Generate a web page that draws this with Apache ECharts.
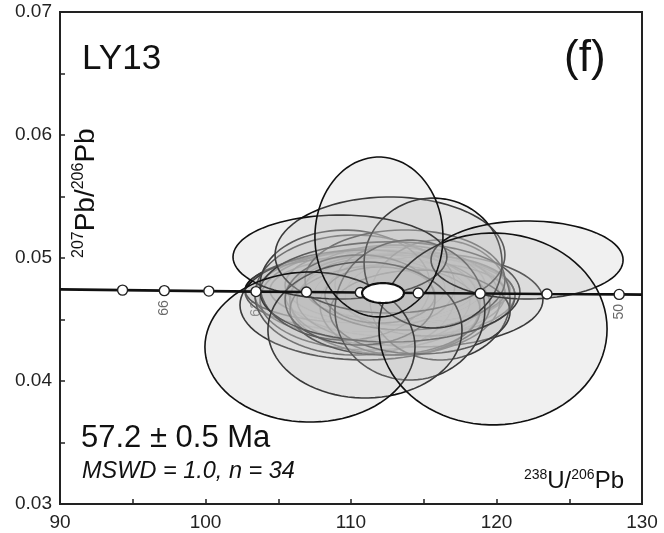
<!DOCTYPE html>
<html>
<head>
<meta charset="utf-8">
<script src="https://cdn.jsdelivr.net/npm/echarts@6.0.0/dist/echarts.min.js"></script>
<style>
    html, body { margin: 0; padding: 0; background: #fff; }
    #chart { width: 664px; height: 533px; }
</style>
</head>
<body>
<div id="chart"></div>
<script>
// 误差椭圆: 238U/206Pb 中心, 半宽, 207Pb/206Pb 中心, 半高
var ellX  = [111.65, 111.99, 112.68, 111.31, 113.37, 112.34, 113.02, 110.62, 114.05, 111.99,
             114.74, 110.27, 113.37, 111.65, 115.43, 110.96, 113.02, 112.34, 109.59, 116.12,
             113.71, 111.99, 114.74, 110.62, 112.68,
             112.68, 114.05, 110.96, 115.64, 109.24, 122.10, 107.18, 119.76, 111.92];
var ellSX = [8.93, 8.59, 8.25, 7.56, 7.90, 6.87, 7.22, 7.90, 6.53, 6.19,
             8.45, 6.87, 5.50, 4.81, 5.84, 8.59, 4.12, 6.53, 5.84, 4.81,
             6.87, 3.78, 6.19, 5.15, 8.93,
             7.90, 5.15, 6.67, 4.74, 7.35, 6.60, 7.22, 7.84, 4.40];
var ellY  = [0.04724, 0.04699, 0.04740, 0.04659, 0.04699, 0.04780, 0.04659, 0.04740, 0.04724, 0.04659,
             0.04659, 0.04699, 0.04618, 0.04756, 0.04691, 0.04618, 0.04780, 0.04577, 0.04780, 0.04659,
             0.04821, 0.04699, 0.04561, 0.04659, 0.04724,
             0.05024, 0.04577, 0.04415, 0.04959, 0.05008, 0.04984, 0.04276, 0.04423, 0.05171];
var ellSY = [0.00325, 0.00366, 0.00285, 0.00407, 0.00341, 0.00309, 0.00447, 0.00268, 0.00244, 0.00366,
             0.00382, 0.00488, 0.00407, 0.00244, 0.00325, 0.00447, 0.00325, 0.00366, 0.00447, 0.00488,
             0.00407, 0.00228, 0.00341, 0.00366, 0.00407,
             0.00472, 0.00569, 0.00553, 0.00528, 0.00341, 0.00317, 0.00610, 0.00780, 0.00650];

// 谐和年龄椭圆 (白色)
var meanX = [112.20], meanSX = [1.44], meanY = [0.04715], meanSY = [0.00081];

// 谐和线
var concX = [90, 94.30, 97.17, 100.23, 103.47, 106.94, 110.64, 114.62, 118.88, 123.47, 128.43, 130];
var concY = [0.04745, 0.04739, 0.04735, 0.04731, 0.04727, 0.04723, 0.04719, 0.04715, 0.04711, 0.04707, 0.04704, 0.04702];
// 年龄点 (Ma)
var ageMa = [68, 66, 64, 62, 60, 58, 56, 54, 52, 50];
var ageX  = [94.30, 97.17, 100.23, 103.47, 106.94, 110.64, 114.62, 118.88, 123.47, 128.43];
var ageY  = [0.04739, 0.04735, 0.04731, 0.04727, 0.04723, 0.04719, 0.04715, 0.04711, 0.04707, 0.04704];
var labelMa = [66, 62, 58, 54, 50];

var xTicks = [90, 100, 110, 120, 130];
var yTicks = [0.03, 0.04, 0.05, 0.06, 0.07];

window.onload = function () {
    var myChart = echarts.init(document.getElementById('chart'));
    var font = '"Liberation Sans", Arial, sans-serif';

    function ellipseItem(fill, stroke, width) {
        return function (params, api) {
            var cx = api.value(0), cy = api.value(1), sx = api.value(2), sy = api.value(3);
            var pts = [];
            for (var k = 0; k < 90; k++) {
                var a = k / 90 * Math.PI * 2;
                pts.push(api.coord([cx + sx * Math.cos(a), cy + sy * Math.sin(a)]));
            }
            return {
                type: 'polygon',
                shape: { points: pts },
                style: { fill: fill, stroke: stroke, lineWidth: width }
            };
        };
    }

    var ellData = ellX.map(function (x, i) { return [x, ellY[i], ellSX[i], ellSY[i]]; });
    var meanData = meanX.map(function (x, i) { return [x, meanY[i], meanSX[i], meanSY[i]]; });
    var concData = concX.map(function (x, i) { return [x, concY[i]]; });
    var ageData = ageX.map(function (x, i) { return [x, ageY[i], ageMa[i]]; });
    var labelData = ageData.filter(function (d) { return labelMa.indexOf(d[2]) >= 0; });

    var axisCommon = {
        type: 'value',
        axisLine: { lineStyle: { color: '#222', width: 2 } },
        axisTick: { inside: true, length: 5, lineStyle: { color: '#222', width: 1.5 } },
        minorTick: { show: true, splitNumber: 2, length: 5, lineStyle: { color: '#222', width: 1.5 } },
        splitLine: { show: false },
        minorSplitLine: { show: false }
    };

    var option = {
        animation: false,
        grid: {
            left: 60, right: 22, top: 12, bottom: 29,
            show: true, borderColor: '#222', borderWidth: 2,
            containLabel: false, outerBoundsMode: 'none'
        },
        xAxis: echarts.util.merge({
            min: xTicks[0], max: xTicks[xTicks.length - 1], interval: 10,
            axisLabel: { fontSize: 19, color: '#222', margin: 9, fontFamily: font }
        }, axisCommon),
        yAxis: echarts.util.merge({
            min: yTicks[0], max: yTicks[yTicks.length - 1], interval: 0.01,
            axisLabel: {
                fontSize: 19, color: '#222', margin: 8, fontFamily: font,
                formatter: function (v) { return v.toFixed(2); }
            }
        }, axisCommon),
        series: [
            // 年龄标注 (在椭圆下面)
            {
                type: 'scatter',
                data: labelData,
                symbolSize: 1,
                itemStyle: { color: 'rgba(0,0,0,0)' },
                z: 1,
                label: {
                    show: true,
                    position: 'bottom',
                    distance: 9,
                    rotate: 90,
                    align: 'right',
                    verticalAlign: 'middle',
                    fontSize: 14,
                    color: '#444',
                    fontFamily: font,
                    formatter: function (p) { return p.data[2]; }
                }
            },
            {
                type: 'custom',
                data: ellData,
                renderItem: ellipseItem('rgba(192,192,192,0.24)', '#111', 1.6),
                z: 2
            },
            {
                type: 'line',
                data: concData,
                symbol: 'none',
                lineStyle: { color: '#111', width: 2.6 },
                z: 3
            },
            {
                type: 'scatter',
                data: ageData,
                symbol: 'circle',
                symbolSize: 10,
                itemStyle: { color: '#fff', borderColor: '#222', borderWidth: 1.4, opacity: 1 },
                z: 4
            },
            {
                type: 'custom',
                data: meanData,
                renderItem: ellipseItem('#fff', '#111', 2.2),
                z: 5
            }
        ],
        graphic: [
            { type: 'text', left: 82, top: 42, style: { text: 'LY13', font: '35px ' + font, fill: '#111' } },
            { type: 'text', left: 564, top: 37, style: { text: '(f)', font: '44px ' + font, fill: '#111' } },
            { type: 'text', left: 81, top: 423, style: { text: '57.2 ± 0.5 Ma', font: '31px ' + font, fill: '#111' } },
            { type: 'text', left: 82, top: 460, style: { text: 'MSWD = 1.0, n = 34', font: 'italic 23.5px ' + font, fill: '#111' } },
            {
                type: 'text', right: 40, top: 468,
                style: {
                    text: '{s|238}{m|U/}{s|206}{m|Pb}',
                    fill: '#111',
                    rich: {
                        s: { fontSize: 14, fontFamily: font, verticalAlign: 'top', lineHeight: 27, fill: '#111' },
                        m: { fontSize: 24, fontFamily: font, lineHeight: 27, fill: '#111' }
                    }
                }
            },
            {
                type: 'text', x: 71, y: 258, rotation: Math.PI / 2,
                style: {
                    text: '{s|207}{m|Pb/}{s|206}{m|Pb}',
                    fill: '#111',
                    rich: {
                        s: { fontSize: 16, fontFamily: font, verticalAlign: 'top', lineHeight: 30, fill: '#111' },
                        m: { fontSize: 28, fontFamily: font, lineHeight: 30, fill: '#111' }
                    }
                }
            }
        ]
    };

    myChart.setOption(option);
    window.addEventListener('resize', function () { myChart.resize(); });
};
</script>
</body>
</html>
